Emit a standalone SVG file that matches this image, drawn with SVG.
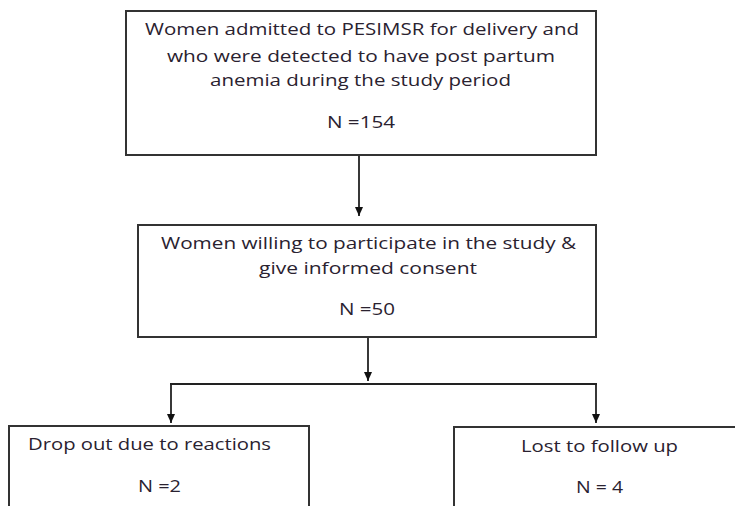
<svg xmlns="http://www.w3.org/2000/svg" width="735" height="506" viewBox="0 0 735 506">
<style>
.box{fill:#fff;stroke:#333;stroke-width:2}
.t{font-family:"Open Sans","Liberation Sans",sans-serif;font-size:16px;fill:#2a2230}
.c{fill:none;stroke:#222;stroke-width:1.8}
</style>
<defs>
<marker id="ah" markerWidth="10" markerHeight="10" refX="9" refY="5" orient="auto" markerUnits="userSpaceOnUse">
<path d="M0,1 L9,5 L0,9 Z" fill="#111"/>
</marker>
</defs>
<rect width="735" height="506" fill="#fff"/>
<g id="connectors">
<line class="c" x1="359" y1="155" x2="359" y2="216" marker-end="url(#ah)"/>
<line class="c" x1="368" y1="337" x2="368" y2="381" marker-end="url(#ah)"/>
<line class="c" x1="170" y1="384" x2="597" y2="384"/>
<line class="c" x1="171" y1="384" x2="171" y2="423" marker-end="url(#ah)"/>
<line class="c" x1="596" y1="384" x2="596" y2="423" marker-end="url(#ah)"/>
</g>
<g id="n1">
<rect class="box" x="126" y="11" width="470" height="144"/>
<text class="t" x="145" y="35" textLength="434" lengthAdjust="spacingAndGlyphs">Women admitted to PESIMSR for delivery and</text>
<text class="t" x="167" y="62" textLength="388" lengthAdjust="spacingAndGlyphs">who were detected to have post partum</text>
<text class="t" x="210" y="86" textLength="301" lengthAdjust="spacingAndGlyphs">anemia during the study period</text>
<text class="t" x="327" y="128" textLength="68" lengthAdjust="spacingAndGlyphs">N =154</text>
</g>
<g id="n2">
<rect class="box" x="138" y="225" width="458" height="112"/>
<text class="t" x="161" y="249" textLength="415" lengthAdjust="spacingAndGlyphs">Women willing to participate in the study &amp;</text>
<text class="t" x="259" y="274" textLength="218" lengthAdjust="spacingAndGlyphs">give informed consent</text>
<text class="t" x="339" y="315" textLength="56" lengthAdjust="spacingAndGlyphs">N =50</text>
</g>
<g id="n3">
<rect class="box" x="9" y="426" width="300" height="100"/>
<text class="t" x="28" y="450" textLength="243" lengthAdjust="spacingAndGlyphs">Drop out due to reactions</text>
<text class="t" x="138" y="492" textLength="43" lengthAdjust="spacingAndGlyphs">N =2</text>
</g>
<g id="n4">
<rect class="box" x="454" y="427" width="300" height="100"/>
<text class="t" x="521" y="452" textLength="157" lengthAdjust="spacingAndGlyphs">Lost to follow up</text>
<text class="t" x="576" y="493" textLength="47" lengthAdjust="spacingAndGlyphs">N = 4</text>
</g>
</svg>
